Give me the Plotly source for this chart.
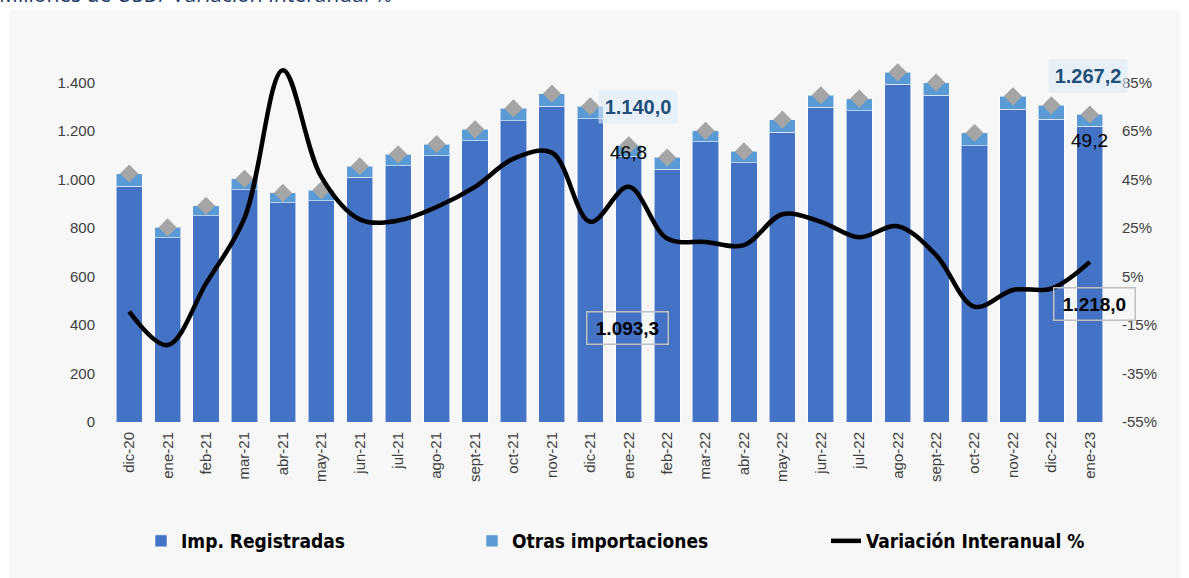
import plotly.graph_objects as go

# ---------------- data ----------------
categories = ["dic-20", "ene-21", "feb-21", "mar-21", "abr-21", "may-21", "jun-21", "jul-21",
              "ago-21", "sept-21", "oct-21", "nov-21", "dic-21", "ene-22", "feb-22", "mar-22",
              "abr-22", "may-22", "jun-22", "jul-22", "ago-22", "sept-22", "oct-22", "nov-22",
              "dic-22", "ene-23"]
imp_registradas = [972, 759, 850, 957, 903, 911, 1009, 1057, 1097, 1158, 1241, 1301, 1250, 1093.27,
                   1042, 1154, 1069, 1194, 1297, 1282, 1392, 1346, 1138, 1289, 1248, 1218.0]
otras_importaciones = [52, 43, 41, 45, 41, 44, 45, 46, 48, 48, 51, 52, 51, 46.76,
                       48, 46, 46, 52, 49, 51, 49, 53, 53, 53, 57, 49.2]
variacion_interanual = [-9.5, -23.3, 2.1, 29, 90, 46, 28.5, 28, 33.6, 41.9, 53.5, 56, 27.5, 41.9,
                        20.6, 19.2, 17.9, 30.6, 27.5, 21.1, 25.7, 13.8, -7.5, -0.6, 0.0, 11.0]
left_ticks = [0, 200, 400, 600, 800, 1000, 1200, 1400]
right_ticks = [-55, -35, -15, 5, 25, 45, 65, 85]

total = [a + b for a, b in zip(imp_registradas, otras_importaciones)]


def fmt_es(v, dec=0):
    s = f"{v:,.{dec}f}"
    return s.replace(",", "X").replace(".", ",").replace("X", ".")


# ---------------- layout geometry ----------------
W, H = 1189, 578
OFF = 0  # page body margin removed via post_script
ML, MR, MT, MB = 110, 80, 58, 156
PW, PH = W - ML - MR, H - MT - MB


def px(xs):
    return (xs - OFF - ML) / PW


def py(ys):
    return (H - MB - (ys - OFF)) / PH


DARK = "#4472C4"
LIGHT = "#5B9BD5"
GRAY = "#A5A5A5"
TICKFONT = dict(family="Liberation Sans, Arial, sans-serif", size=15, color="#404040")
LEGFONT = dict(family="Liberation Sans Narrow, DejaVu Sans Condensed, Arial Narrow, sans-serif",
               size=19, color="#000000", weight="bold")

fig = go.Figure()
fig.add_trace(go.Bar(x=categories, y=imp_registradas, name="Imp. Registradas",
                     marker=dict(color=DARK, line=dict(color="rgba(255,255,255,0.55)", width=1)),
                     legend="legend"))
fig.add_trace(go.Bar(x=categories, y=otras_importaciones, name="Otras importaciones",
                     marker=dict(color=LIGHT, line=dict(color="rgba(255,255,255,0.55)", width=1)),
                     legend="legend2"))
fig.add_trace(go.Scatter(x=categories, y=total, mode="markers", showlegend=False,
                         marker=dict(symbol="diamond", size=14, color=GRAY)))
fig.add_trace(go.Scatter(x=categories, y=variacion_interanual, name="Variación Interanual %",
                         mode="lines", yaxis="y2", line=dict(color="black", width=4.5,
                                                            shape="spline", smoothing=1.0),
                         legend="legend3"))

i22 = categories.index("ene-22")
i23 = categories.index("ene-23")

ann = []
# top totals (light blue boxes)
for idx, xs in ((i22, 9), (i23, -2)):
    ann.append(dict(x=categories[idx], y=total[idx], xref="x", yref="y", xshift=xs, yshift=38,
                    text=fmt_es(total[idx], 1), showarrow=False, bgcolor="rgba(222,235,247,0.6)",
                    width=70, height=24, borderpad=4,
                    font=dict(family="Liberation Sans, Arial, sans-serif", size=20,
                              color="#1F4E79", weight="bold")))
# otras labels
for idx, ys in ((i22, -7), (i23, -26)):
    ann.append(dict(x=categories[idx], y=total[idx], xref="x", yref="y", yshift=ys,
                    text=fmt_es(otras_importaciones[idx], 1), showarrow=False,
                    font=dict(family="Liberation Sans, Arial, sans-serif", size=19, color="black")))
# registered imports labels (gray framed boxes)
for idx, yv, xs in ((i22, 387, -1), (i23, 486, 5)):
    ann.append(dict(x=categories[idx], y=yv, xref="x", yref="y", xshift=xs,
                    text=fmt_es(imp_registradas[idx], 1), showarrow=False,
                    bordercolor="#BFBFBF", borderwidth=1.5, borderpad=5, width=70,
                    font=dict(family="Liberation Sans, Arial, sans-serif", size=19,
                              color="black", weight="bold")))
# title (partially cut at the top, as in the source)
ann.append(dict(x=px(-3), y=py(10), xref="paper", yref="paper", xanchor="left", yanchor="bottom",
                text="Millones de USD/ Variación Interanual %", showarrow=False,
                font=dict(family="Open Sans, sans-serif", size=21, color="#203864")))

fig.update_layout(
    width=W, height=H,
    margin=dict(l=ML, r=MR, t=MT, b=MB, pad=0),
    paper_bgcolor="white", plot_bgcolor="rgba(0,0,0,0)",
    barmode="stack", bargap=0.32,
    separators=",.",
    annotations=ann,
    shapes=[dict(type="rect", xref="paper", yref="paper", x0=px(10), x1=px(1180),
                 y0=py(590), y1=py(10), fillcolor="#F7F7F7", line=dict(width=0), layer="below")],
    xaxis=dict(type="category", range=[-0.5, len(categories) - 0.5], tickangle=-90,
               tickfont=TICKFONT, showgrid=False, showline=False, ticks="", ticklabelstandoff=6),
    yaxis=dict(range=[0, 1500], tickvals=left_ticks, ticktext=[fmt_es(v) for v in left_ticks],
               tickfont=TICKFONT, showgrid=False, zeroline=False, showline=False, ticks="",
               ticklabelstandoff=14),
    yaxis2=dict(range=[-55, 95], overlaying="y", side="right", tickvals=right_ticks,
                ticktext=[f"{v}%" for v in right_ticks], tickfont=TICKFONT, showgrid=False,
                zeroline=False, showline=False, ticks="", ticklabelstandoff=12),
    legend=dict(x=px(141), y=py(541), xanchor="left", yanchor="middle", orientation="h",
                font=LEGFONT, bgcolor="rgba(0,0,0,0)"),
    legend2=dict(x=px(472), y=py(541), xanchor="left", yanchor="middle", orientation="h",
                 font=LEGFONT, bgcolor="rgba(0,0,0,0)"),
    legend3=dict(x=px(826), y=py(541), xanchor="left", yanchor="middle", orientation="h",
                 font=LEGFONT, bgcolor="rgba(0,0,0,0)"),
)

fig.write_html("out.html", config={"displayModeBar": False},
               post_script="document.body.style.margin='0';")
